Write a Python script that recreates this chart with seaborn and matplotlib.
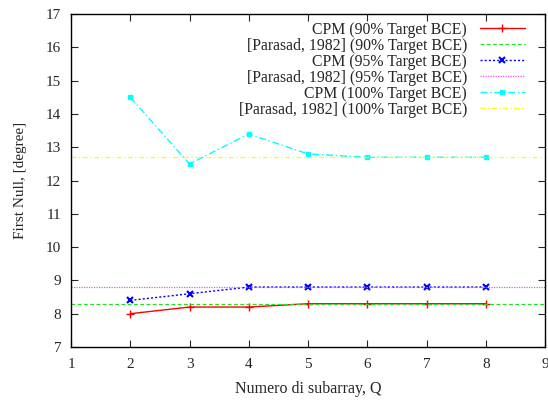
import numpy as np
import pandas as pd
import matplotlib
matplotlib.use("Agg")
import matplotlib.pyplot as plt
import seaborn as sns

sns.set_style("ticks")
plt.rcParams['font.family'] = ['Liberation Serif', 'DejaVu Serif']

Q = [2, 3, 4, 5, 6, 7, 8]
cpm_90 = [8.0, 8.2, 8.2, 8.3, 8.3, 8.3, 8.3]
cpm_95 = [8.4, 8.6, 8.8, 8.8, 8.8, 8.8, 8.8]
cpm_100 = [14.5, 12.5, 13.4, 12.8, 12.7, 12.7, 12.7]
ref_90 = 8.3
ref_95 = 8.8
ref_100 = 12.7
x_range = [1, 9]

fig = plt.figure(figsize=(5.48, 4.01), dpi=100)
ax = fig.add_axes([0.1296, 0.1347, 0.865, 0.830])

def curve(y, label, color, ls, marker, ms, mew=1.0):
    sns.lineplot(x=Q, y=y, ax=ax, color=color, linestyle=ls, marker=marker,
                 markersize=ms, markeredgewidth=mew, markeredgecolor=color,
                 markerfacecolor=color, linewidth=1.0, label=label)

def ref(v, label, color, ls):
    sns.lineplot(x=x_range, y=[v, v], ax=ax, color=color, linestyle=ls,
                 linewidth=0.9, label=label)

curve(cpm_90, "CPM (90% Target BCE)", "#ff0000", "-", "+", 6)
ref(ref_90, "[Parasad, 1982] (90% Target BCE)", "#22e022", (0, (3, 2)))
curve(cpm_95, "CPM (95% Target BCE)", "#0000ff", (0, (1.5, 1.5)), "x", 4.5, 1.5)
ref(ref_95, "[Parasad, 1982] (95% Target BCE)", "#ee55ee", (0, (1, 1)))
curve(cpm_100, "CPM (100% Target BCE)", "#00ffff", (0, (5, 2, 1, 2)), "s", 3.3)
ref(ref_100, "[Parasad, 1982] (100% Target BCE)", "#ffff00", (0, (4, 2, 1, 2)))

ax.set_xlim(1, 9)
ax.set_ylim(7, 17)
ax.set_xticks(range(1, 10))
ax.set_yticks(range(7, 18))
ax.tick_params(axis="both", direction="in", top=True, right=True, length=5,
               width=0.8, labelsize=11)
ax.tick_params(axis="x", pad=8)
ax.tick_params(axis="y", pad=7)
for s in ax.spines.values():
    s.set_linewidth(1.0)
    s.set_color("black")

ax.set_xlabel("Numero di subarray, Q", fontsize=11.5, labelpad=7)
ax.set_ylabel("First Null, [degree]", fontsize=11, labelpad=14)

leg = ax.legend(loc="upper right", bbox_to_anchor=(0.981, 1.01), frameon=False,
                markerfirst=False, fontsize=11.3, handlelength=2.9,
                labelspacing=0.0, borderaxespad=0.3, handletextpad=0.8)
for t in leg.get_texts():
    t.set_ha("right")
leg._legend_box.align = "right"

fig.savefig("out.png", dpi=100)
